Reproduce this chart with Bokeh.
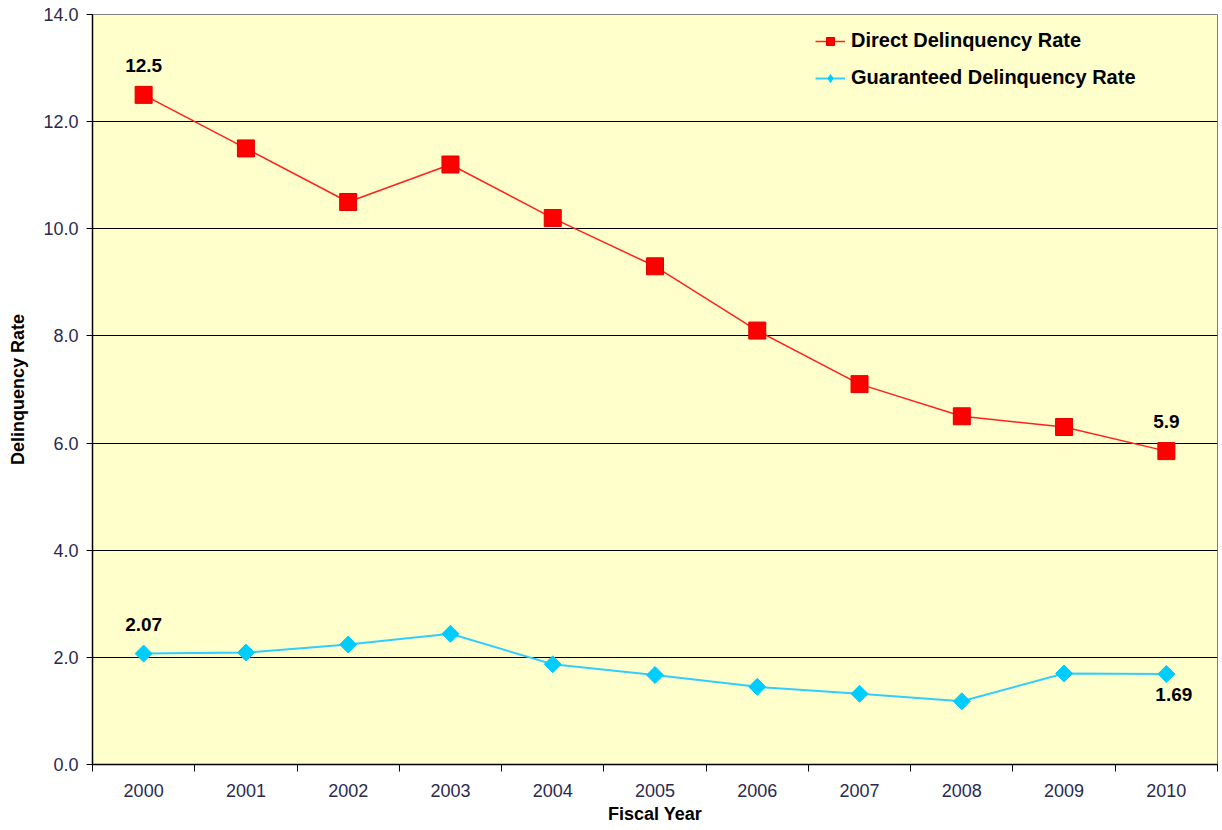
from bokeh.plotting import figure
from bokeh.models import FixedTicker, Legend, LegendItem, ColumnDataSource, Range1d, CustomJSTickFormatter
from bokeh.core.properties import value
from bokeh.embed import file_html
from bokeh.resources import INLINE
import math

years = [2000, 2001, 2002, 2003, 2004, 2005, 2006, 2007, 2008, 2009, 2010]
direct = [12.5, 11.5, 10.5, 11.2, 10.2, 9.3, 8.1, 7.1, 6.5, 6.3, 5.85]
guaranteed = [2.07, 2.09, 2.24, 2.44, 1.87, 1.67, 1.45, 1.32, 1.18, 1.70, 1.69]
y_ticks = [0, 2, 4, 6, 8, 10, 12, 14]

FONT = "Liberation Sans"

p = figure(width=1220, height=826, output_backend="svg", toolbar_location=None,
           x_range=Range1d(1999.5, 2010.5), y_range=Range1d(0, 14),
           min_border_left=92, min_border_right=3, min_border_top=14, min_border_bottom=62)
p.background_fill_color = "#FFFFCC"
p.border_fill_color = "white"
p.outline_line_color = "#808080"
p.outline_line_width = 1

# axes
p.xaxis.ticker = FixedTicker(ticks=years, minor_ticks=[y - 0.5 for y in years] + [2010.5])
p.xaxis.major_tick_out = 0
p.xaxis.major_tick_in = 0
p.xaxis.minor_tick_out = 7
p.xaxis.minor_tick_in = 0
p.xaxis.minor_tick_line_color = "black"
p.xaxis.axis_line_color = "black"
p.xaxis.axis_line_width = 1.5
p.xaxis.major_label_standoff = 12
p.xaxis.axis_label = "Fiscal Year"
p.xaxis.axis_label_standoff = 4

p.yaxis.ticker = FixedTicker(ticks=y_ticks)
p.yaxis.formatter = CustomJSTickFormatter(code="return tick.toFixed(1);")
p.yaxis.major_tick_out = 6
p.yaxis.major_tick_in = 0
p.yaxis.minor_tick_line_color = None
p.yaxis.axis_line_color = "black"
p.yaxis.axis_line_width = 1.5
p.yaxis.major_tick_line_color = "black"
p.yaxis.major_label_standoff = 8
p.yaxis.axis_label = "Delinquency Rate"
p.yaxis.axis_label_standoff = 12

for ax in (p.xaxis[0], p.yaxis[0]):
    ax.major_label_text_font = FONT
    ax.major_label_text_font_size = "18px"
    ax.major_label_text_color = "#2A2A50"
    ax.axis_label_text_font = FONT
    ax.axis_label_text_font_size = "18px"
    ax.axis_label_text_font_style = "bold"
    ax.axis_label_text_color = "black"

p.xgrid.grid_line_color = None
p.ygrid.ticker = FixedTicker(ticks=y_ticks[1:-1])
p.ygrid.grid_line_color = "black"
p.ygrid.grid_line_width = 1

# series
r1 = p.line(years, direct, line_color="#FF2020", line_width=1.5)
r2 = p.scatter(years, direct, marker="square", size=17, fill_color="#FF0000", line_color="#E00000")
r3 = p.line(years, guaranteed, line_color="#33CCFF", line_width=2)
# diamond glyph (used for the legend swatch), covered by the wider rotated square on top
r4_leg = p.scatter(years, guaranteed, marker="diamond", size=15, fill_color="#00CCFF", line_color="#00CCFF")
r4 = p.scatter(years, guaranteed, marker="square", angle=math.pi / 4, size=12,
               fill_color="#00CCFF", line_color="#00CCFF")

# data labels (first and last point of each series)
lab_above = ColumnDataSource(dict(
    x=[years[0], years[-1], years[0]],
    y=[direct[0], direct[-1], guaranteed[0]],
    t=["12.5", "5.9", "2.07"]))
p.text("x", "y", text="t", source=lab_above, text_font=value(FONT), text_font_size="19px",
       text_font_style="bold", text_align="center", text_baseline="bottom", y_offset=-23,
       text_color="black")
lab_below = ColumnDataSource(dict(x=[years[-1]], y=[guaranteed[-1]], t=["1.69"]))
p.text("x", "y", text="t", source=lab_below, text_font=value(FONT), text_font_size="19px",
       text_font_style="bold", text_align="left", text_baseline="top", y_offset=14, x_offset=-11,
       text_color="black")

legend = Legend(items=[
    LegendItem(label="Direct Delinquency Rate", renderers=[r1, r2]),
    LegendItem(label="Guaranteed Delinquency Rate", renderers=[r3, r4_leg]),
], location=(723, 675))
legend.background_fill_alpha = 0
legend.border_line_color = None
legend.label_text_font = FONT
legend.label_text_font_size = "20px"
legend.label_text_font_style = "bold"
legend.label_text_color = "black"
legend.glyph_width = 30
legend.glyph_height = 20
legend.label_height = 20
legend.spacing = 14
legend.padding = 0
legend.label_standoff = 6
p.add_layout(legend, "center")

open("out.html", "w").write(file_html(p, INLINE))
